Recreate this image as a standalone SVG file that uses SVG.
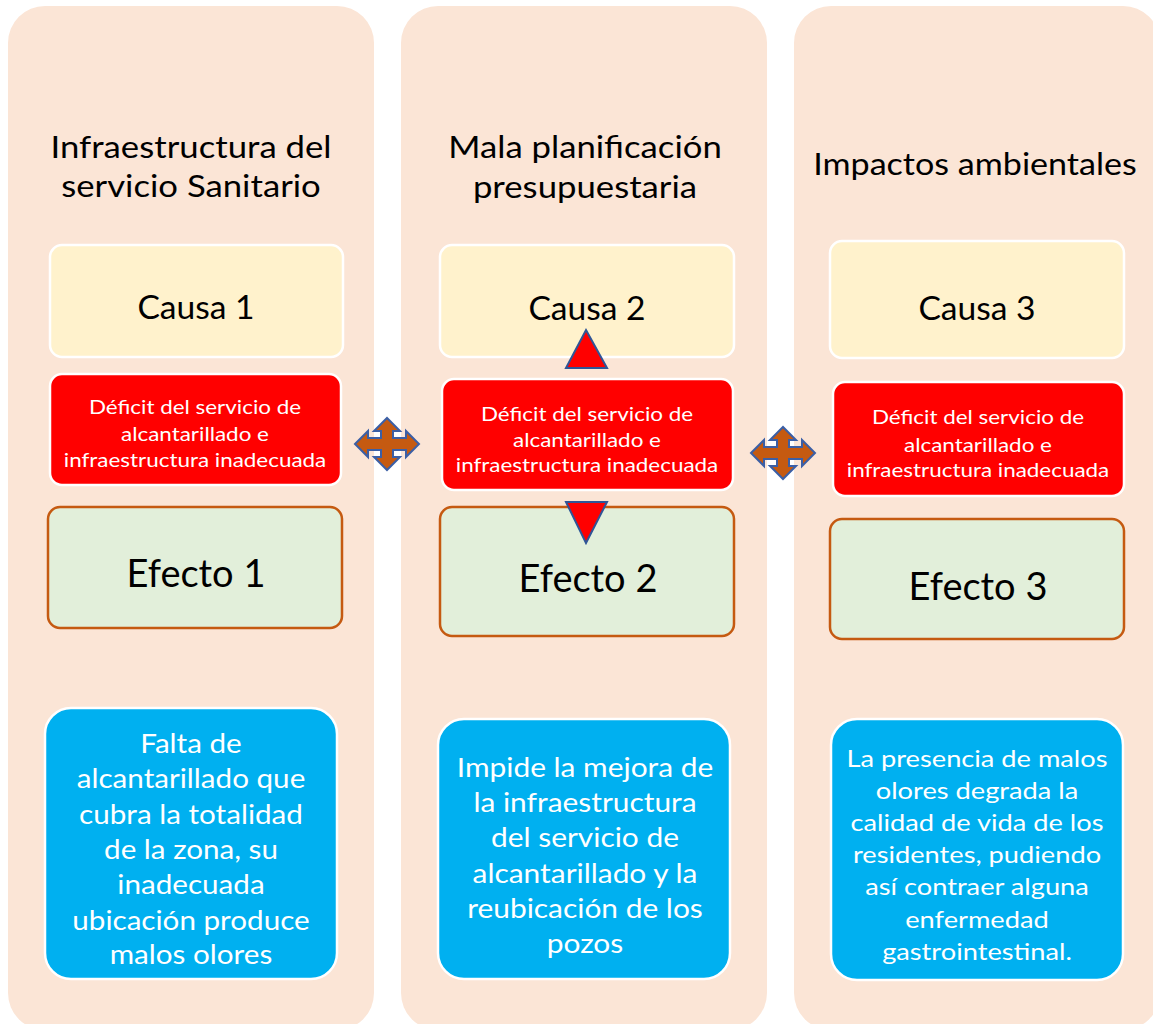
<svg xmlns="http://www.w3.org/2000/svg" width="1153" height="1024" viewBox="0 0 1153 1024">
<defs>
<style>
.panel{fill:#FBE5D6;}
.causa{fill:#FFF2CC;stroke:#FFFFFF;stroke-width:2.5;}
.def{fill:#FF0000;stroke:#FFFFFF;stroke-width:2.5;}
.efe{fill:#E2EFDA;stroke:#C55A11;stroke-width:2.5;}
.blue{fill:#00B0F0;stroke:#FFFFFF;stroke-width:2.5;}
.tri{fill:#FF0000;stroke:#2F5597;stroke-width:2;stroke-linejoin:miter;}
.quad{fill:#C55A11;stroke:#3B5FA6;stroke-width:2;stroke-linejoin:miter;}
text{font-family:Lato,"Liberation Sans",sans-serif;text-anchor:middle;}
.title{font-size:31px;fill:#000;}
.ct{font-size:32px;fill:#000;}
.et{font-size:38px;fill:#000;}
.dt{font-size:19.5px;fill:#FFF;}
.bt{font-size:26px;fill:#FFF;}
.bt3{font-size:24px;fill:#FFF;}
</style>
<path id="quadArrow" d="M-32,0 L-19,-13 L-19,-6 L-6,-6 L-6,-13 L-13,-13 L0,-26 L13,-13 L6,-13 L6,-6 L19,-6 L19,-13 L32,0 L19,13 L19,6 L6,6 L6,13 L13,13 L0,26 L-13,13 L-6,13 L-6,6 L-19,6 L-19,13 Z"/>
</defs>

<g id="col1">
<rect class="panel" x="8" y="6" width="366" height="1024" rx="37"/>
<g transform="translate(191,0) scale(1.12,1)">
<text class="title" x="0" y="158">Infraestructura del</text>
<text class="title" x="0" y="197">servicio Sanitario</text>
</g>
</g>
<g id="col2">
<rect class="panel" x="401" y="6" width="366" height="1024" rx="37"/>
<g transform="translate(585,0) scale(1.12,1)">
<text class="title" x="0" y="158">Mala planificación</text>
<text class="title" x="0" y="198">presupuestaria</text>
</g>
</g>
<g id="col3">
<rect class="panel" x="794" y="6" width="366" height="1024" rx="37"/>
<g transform="translate(975,0) scale(1.1,1)">
<text class="title" x="0" y="175">Impactos ambientales</text>
</g>
</g>

<g id="causa1"><rect class="causa" x="50" y="245" width="293" height="112" rx="12"/><text class="ct" transform="translate(196,0) scale(1.05,1)" x="0" y="319">Causa 1</text></g>
<g id="causa2"><rect class="causa" x="440" y="245" width="294" height="112" rx="12"/><text class="ct" transform="translate(587,0) scale(1.05,1)" x="0" y="320">Causa 2</text></g>
<g id="causa3"><rect class="causa" x="830" y="241" width="294" height="117" rx="12"/><text class="ct" transform="translate(977,0) scale(1.05,1)" x="0" y="320">Causa 3</text></g>

<g id="deficit1"><rect class="def" x="50" y="374" width="291" height="111" rx="12"/>
<g transform="translate(195,0) scale(1.15,1)">
<text class="dt" x="0" y="414">Déficit del servicio de</text>
<text class="dt" x="0" y="441">alcantarillado e</text>
<text class="dt" x="0" y="467">infraestructura inadecuada</text></g></g>
<g id="deficit2"><rect class="def" x="442" y="379" width="291" height="111" rx="12"/>
<g transform="translate(587,0) scale(1.15,1)">
<text class="dt" x="0" y="421">Déficit del servicio de</text>
<text class="dt" x="0" y="447">alcantarillado e</text>
<text class="dt" x="0" y="472">infraestructura inadecuada</text></g></g>
<g id="deficit3"><rect class="def" x="833" y="382" width="291" height="114" rx="12"/>
<g transform="translate(978,0) scale(1.15,1)">
<text class="dt" x="0" y="424">Déficit del servicio de</text>
<text class="dt" x="0" y="452">alcantarillado e</text>
<text class="dt" x="0" y="477">infraestructura inadecuada</text></g></g>

<g id="efecto1"><rect class="efe" x="48" y="507" width="294" height="121" rx="12"/><text class="et" x="196" y="587">Efecto 1</text></g>
<g id="efecto2"><rect class="efe" x="440" y="507" width="294" height="129" rx="12"/><text class="et" x="588" y="592">Efecto 2</text></g>
<g id="efecto3"><rect class="efe" x="830" y="519" width="294" height="120" rx="12"/><text class="et" x="978" y="600">Efecto 3</text></g>

<g id="desc1"><rect class="blue" x="45" y="708" width="292" height="271" rx="26"/>
<g transform="translate(191,0) scale(1.14,1)">
<text class="bt" x="0" y="753">Falta de</text>
<text class="bt" x="0" y="788">alcantarillado que</text>
<text class="bt" x="0" y="824">cubra la totalidad</text>
<text class="bt" x="0" y="859">de la zona, su</text>
<text class="bt" x="0" y="894">inadecuada</text>
<text class="bt" x="0" y="930">ubicación produce</text>
<text class="bt" x="0" y="964">malos olores</text></g></g>
<g id="desc2"><rect class="blue" x="438" y="719" width="292" height="260" rx="26"/>
<g transform="translate(585,0) scale(1.15,1)">
<text class="bt" x="0" y="777">Impide la mejora de</text>
<text class="bt" x="0" y="812">la infraestructura</text>
<text class="bt" x="0" y="847">del servicio de</text>
<text class="bt" x="0" y="883">alcantarillado y la</text>
<text class="bt" x="0" y="918">reubicación de los</text>
<text class="bt" x="0" y="953">pozos</text></g></g>
<g id="desc3"><rect class="blue" x="831" y="719" width="292" height="261" rx="26"/>
<g transform="translate(977,0) scale(1.135,1)">
<text class="bt3" x="0" y="767">La presencia de malos</text>
<text class="bt3" x="0" y="799">olores degrada la</text>
<text class="bt3" x="0" y="831">calidad de vida de los</text>
<text class="bt3" x="0" y="863">residentes, pudiendo</text>
<text class="bt3" x="0" y="895">así contraer alguna</text>
<text class="bt3" x="0" y="928">enfermedad</text>
<text class="bt3" x="0" y="960">gastrointestinal.</text></g></g>

<g id="connectors">
<use href="#quadArrow" class="quad" transform="translate(387,444)"/>
<use href="#quadArrow" class="quad" transform="translate(783,453)"/>
<polygon class="tri" points="586,330 607,368 566,368"/>
<polygon class="tri" points="566,502 607,502 586,543"/>
</g>
</svg>
